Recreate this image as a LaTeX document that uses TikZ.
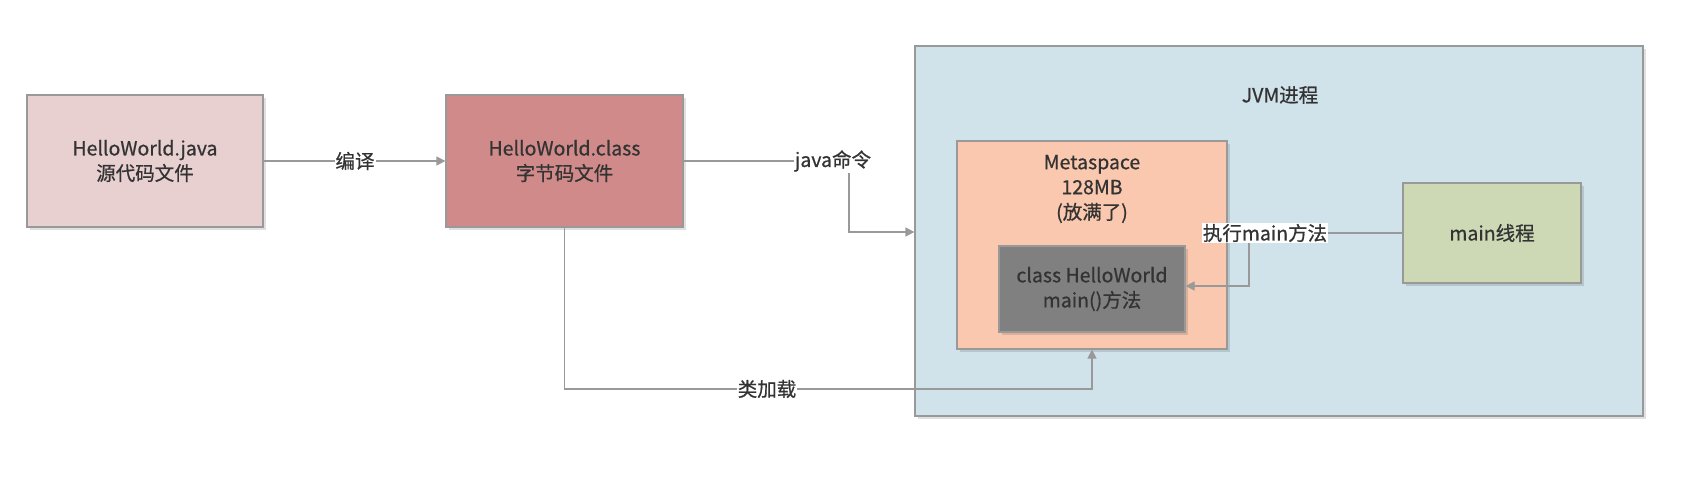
\documentclass[tikz,border=0pt]{standalone}
\usepackage{fontspec}
\setmainfont{Noto Sans CJK SC}[FakeBold=0.7]
\usetikzlibrary{arrows.meta,shadows}

\definecolor{srcfill}{HTML}{E8D0D1}
\definecolor{clsfill}{HTML}{D08A8A}
\definecolor{jvmfill}{HTML}{D0E2EA}
\definecolor{metafill}{HTML}{FAC8AE}
\definecolor{hwfill}{HTML}{808080}
\definecolor{thrfill}{HTML}{CCD9B4}
\definecolor{linegray}{HTML}{999999}
\definecolor{txt}{HTML}{333333}

\tikzset{
  box/.style={draw=linegray, line width=1.2pt, text=txt, align=center,
    drop shadow={shadow xshift=3pt, shadow yshift=-3pt, fill=black, opacity=0.12}},
  link/.style={draw=linegray, line width=1.2pt},
  arr/.style={link, -{Triangle[length=9pt,width=9pt]}},
  lbl/.style={fill=white, text=txt, inner sep=1pt},
}

\begin{document}
\begin{tikzpicture}[x=1pt, y=-1pt, font=\fontsize{19.5pt}{25pt}\selectfont]
  \useasboundingbox (0,0) rectangle (1686,502);
  \node[box, fill=srcfill, minimum width=236pt, minimum height=132pt] (src) at (145,161) {HelloWorld.java\\源代码文件};
  \node[box, fill=clsfill, minimum width=237pt, minimum height=132pt] (cls) at (564.5,161) {HelloWorld.class\\字节码文件};
  \node[box, fill=jvmfill, minimum width=728pt, minimum height=370pt] (jvm) at (1279,231) {};
  \node[text=txt] (jvmt) at (1280,95) {JVM进程};
  \node[box, fill=metafill, minimum width=270pt, minimum height=208pt] (meta) at (1092,245) {};
  \node[text=txt, align=center] (metat) at (1092,189) {Metaspace\\128MB\\(放满了)};
  \node[box, fill=hwfill, minimum width=186pt, minimum height=86pt] (hw) at (1092,289) {class HelloWorld\\main()方法};
  \node[box, fill=thrfill, minimum width=178pt, minimum height=100pt] (thr) at (1492,233) {main线程};
  \coordinate (jc) at (849,232);
  \coordinate (lc) at (1092,389);
  \coordinate (ec) at (1249,286);
  \draw[arr] (src) -- (cls);
  \draw[arr] (cls.east) -| (jc) -- (jc -| jvm.west);
  \draw[arr] (cls.south) |- (lc) -- (meta.south);
  \draw[arr] (thr.west) -| (ec) -- (ec -| hw.east);
  \node[lbl] (l1) at (355,161) {编译};
  \node[lbl] (l2) at (833,161) {java命令};
  \node[lbl] (l3) at (767,389) {类加载};
  \node[lbl] (l4) at (1265,233) {执行main方法};
\end{tikzpicture}
\end{document}
